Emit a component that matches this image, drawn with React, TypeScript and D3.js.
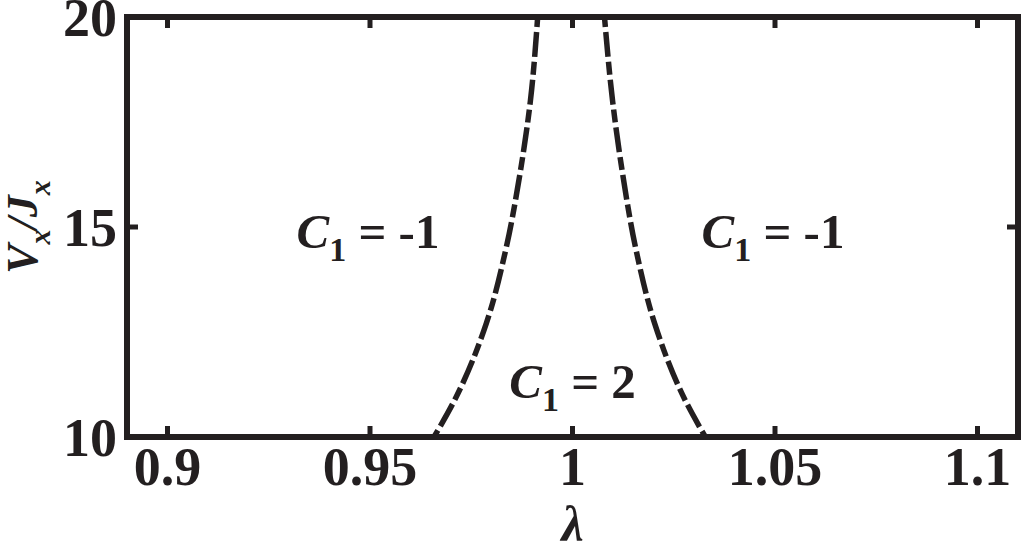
import React from 'react';
import * as d3 from 'd3';

// phase boundary: [lambda, Vx/Jx]
const leftBoundary: [number, number][] = [
  [0.9914, 20], [0.9896, 18.0], [0.9870, 16.25], [0.9835, 14.45],
  [0.9787, 12.7], [0.9710, 10.9], [0.9658, 10],
];
const rightBoundary: [number, number][] = [
  [1.0079, 20], [1.0099, 18.0], [1.0124, 16.25], [1.0157, 14.45],
  [1.0203, 12.7], [1.0277, 10.9], [1.0328, 10],
];

const xTicks = [0.9, 0.95, 1, 1.05, 1.1];
const xTickLabels = ['0.9', '0.95', '1', '1.05', '1.1'];
const yTicks = [10, 15, 20];
const yTickLabels = ['10', '15', '20'];

const regionLabels = [
  { lambda: 0.9495, v: 14.5, value: '-1' },
  { lambda: 1.0495, v: 14.5, value: '-1' },
  { lambda: 1.0, v: 10.93, value: '2' },
];

const W = 1023;
const H = 547;
const INK = '#231f20';
const FONT = "'Liberation Serif', 'Times New Roman', serif";

export default function App() {
  const x = d3.scaleLinear().domain([0.89, 1.11]).range([127, 1018]);
  const y = d3.scaleLinear().domain([10, 20]).range([437, 17]);

  const line = d3.line<[number, number]>()
    .x(d => x(d[0]))
    .y(d => y(d[1]))
    .curve(d3.curveMonotoneY);

  const [x0, x1] = x.range();
  const [y0, y1] = y.range();
  const tickLen = 11;

  return (
    <div style={{ position: 'fixed', left: 0, top: 0, width: W, height: H, background: '#fff' }}>
      <svg width={W} height={H} style={{ display: 'block' }} fontFamily={FONT}>
        {/* boundaries */}
        {[leftBoundary, rightBoundary].map((pts, i) => (
          <path key={i} d={line(pts) || ''} fill="none" stroke={INK} strokeWidth={5.5}
            strokeDasharray="25 5 13 5" strokeDashoffset={33} strokeLinecap="butt" />
        ))}

        {/* ticks, inward on all four sides */}
        {xTicks.map(t => (
          <g key={'xt' + t} stroke={INK} strokeWidth={5}>
            <line x1={x(t)} x2={x(t)} y1={y0} y2={y0 - tickLen} />
            <line x1={x(t)} x2={x(t)} y1={y1} y2={y1 + tickLen} />
          </g>
        ))}
        {yTicks.map(t => (
          <g key={'yt' + t} stroke={INK} strokeWidth={5}>
            <line x1={x0} x2={x0 + tickLen} y1={y(t)} y2={y(t)} />
            <line x1={x1} x2={x1 - tickLen} y1={y(t)} y2={y(t)} />
          </g>
        ))}

        {/* box */}
        <rect x={x0} y={y1} width={x1 - x0} height={y0 - y1} fill="none" stroke={INK} strokeWidth={6} />

        {/* tick labels */}
        {xTicks.map((t, i) => (
          <text key={'xl' + t} x={x(t)} y={y0 + 48} textAnchor="middle" fontSize={54}
            fontWeight="bold" fill={INK}>{xTickLabels[i]}</text>
        ))}
        {yTicks.map((t, i) => (
          <text key={'yl' + t} x={x0 - 10} y={y(t) + 19} textAnchor="end" fontSize={54}
            fontWeight="bold" fill={INK}>{yTickLabels[i]}</text>
        ))}

        {/* region labels */}
        {regionLabels.map((r, i) => (
          <text key={'r' + i} x={x(r.lambda)} y={y(r.v)} textAnchor="middle" fontSize={49}
            fontWeight="bold" fill={INK} style={{ whiteSpace: 'pre' }}>
            <tspan fontStyle="italic">C</tspan>
            <tspan fontSize={34} dy={13}>1</tspan>
            <tspan dy={-13}>{' = ' + r.value}</tspan>
          </text>
        ))}

        {/* axis titles */}
        <text x={x(1)} y={541} textAnchor="middle" fontSize={50} fontWeight="bold"
          fontStyle="italic" fill={INK}>λ</text>
        <text transform={`translate(37, ${(y0 + y1) / 2}) rotate(-90)`} textAnchor="middle"
          fontSize={44} fontWeight="bold" fontStyle="italic" fill={INK}>
          <tspan>V</tspan>
          <tspan fontSize={30} dy={13}>x</tspan>
          <tspan dy={-13}>/J</tspan>
          <tspan fontSize={30} dy={13}>x</tspan>
        </text>
      </svg>
    </div>
  );
}
